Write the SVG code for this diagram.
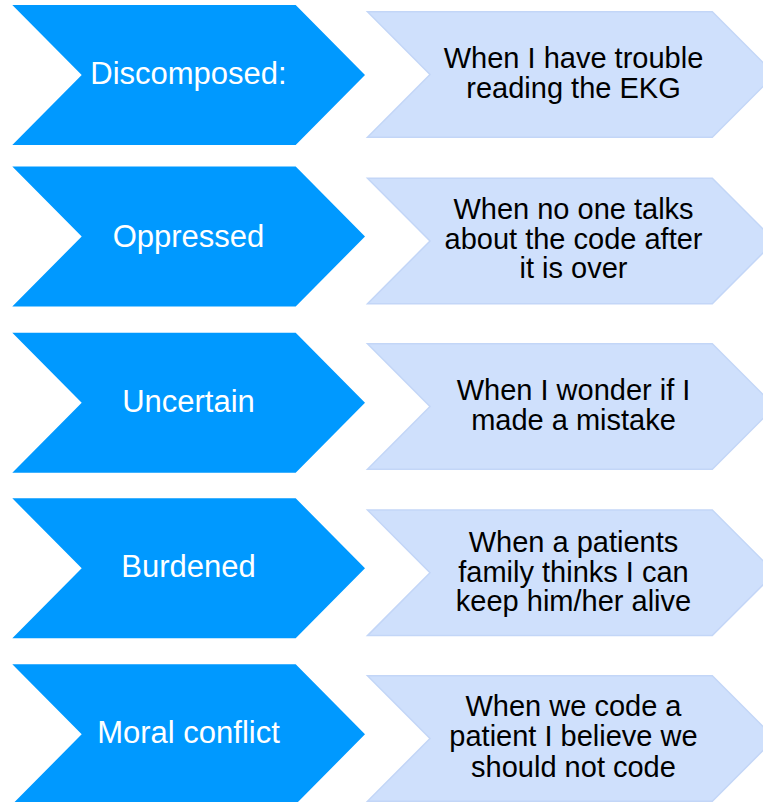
<svg xmlns="http://www.w3.org/2000/svg" xmlns:xlink="http://www.w3.org/1999/xlink" width="763" height="802" viewBox="0 0 763 802">
  <style>
    .feel { fill: #0099ff; }
    .when { fill: #cfe0fc; stroke: #c3d6f7; stroke-width: 1.5; }
    .feel-text { font-family: "Liberation Sans", Arial, sans-serif; font-size: 31px; fill: #ffffff; text-anchor: middle; }
    .when-text { font-family: "Liberation Sans", Arial, sans-serif; font-size: 29px; fill: #000000; text-anchor: middle; }
  </style>
  <defs>
    <!-- chevron shapes centred on y = 0 -->
    <polygon id="chev-feel" points="12.3,-70 295.7,-70 365,0 295.7,70 12.3,70 81.7,0"/>
    <polygon id="chev-when" points="367.5,-62.8 712.3,-62.8 775,0 712.3,62.8 367.5,62.8 430,0"/>
  </defs>

  <rect width="763" height="802" fill="#ffffff"/>

  <!-- feeling chevrons -->
  <g id="feel-discomposed">
    <use xlink:href="#chev-feel" class="feel" transform="translate(0,75)"/>
    <text class="feel-text" x="188.5" y="84">Discomposed:</text>
  </g>
  <g id="feel-oppressed">
    <use xlink:href="#chev-feel" class="feel" transform="translate(0,236.5)"/>
    <text class="feel-text" x="188.5" y="246.7">Oppressed</text>
  </g>
  <g id="feel-uncertain">
    <use xlink:href="#chev-feel" class="feel" transform="translate(0,402.7)"/>
    <text class="feel-text" x="188.5" y="411.7">Uncertain</text>
  </g>
  <g id="feel-burdened">
    <use xlink:href="#chev-feel" class="feel" transform="translate(0,568.3)"/>
    <text class="feel-text" x="188.5" y="577.3">Burdened</text>
  </g>
  <g id="feel-moral">
    <use xlink:href="#chev-feel" class="feel" transform="translate(0,734.3)"/>
    <text class="feel-text" x="188.5" y="743.3">Moral conflict</text>
  </g>

  <!-- situation chevrons -->
  <g id="when-ekg">
    <use xlink:href="#chev-when" class="when" transform="translate(0,74.5)"/>
    <text class="when-text" x="573.5" y="68.3">When I have trouble</text>
    <text class="when-text" x="573.5" y="98.3">reading the EKG</text>
  </g>
  <g id="when-debrief">
    <use xlink:href="#chev-when" class="when" transform="translate(0,241)"/>
    <text class="when-text" x="573.5" y="219">When no one talks</text>
    <text class="when-text" x="573.5" y="249">about the code after</text>
    <text class="when-text" x="573.5" y="278.3">it is over</text>
  </g>
  <g id="when-mistake">
    <use xlink:href="#chev-when" class="when" transform="translate(0,406.5)"/>
    <text class="when-text" x="573.5" y="400">When I wonder if I</text>
    <text class="when-text" x="573.5" y="430">made a mistake</text>
  </g>
  <g id="when-family">
    <use xlink:href="#chev-when" class="when" transform="translate(0,572.8)"/>
    <text class="when-text" x="573.5" y="551.7">When a patients</text>
    <text class="when-text" x="573.5" y="581.7">family thinks I can</text>
    <text class="when-text" x="573.5" y="610.7">keep him/her alive</text>
  </g>
  <g id="when-code">
    <use xlink:href="#chev-when" class="when" transform="translate(0,738.5)"/>
    <text class="when-text" x="573.5" y="716">When we code a</text>
    <text class="when-text" x="573.5" y="746">patient I believe we</text>
    <text class="when-text" x="573.5" y="776.7">should not code</text>
  </g>

  <!-- no connectors between the chevrons -->
  <g id="connectors"/>
</svg>
